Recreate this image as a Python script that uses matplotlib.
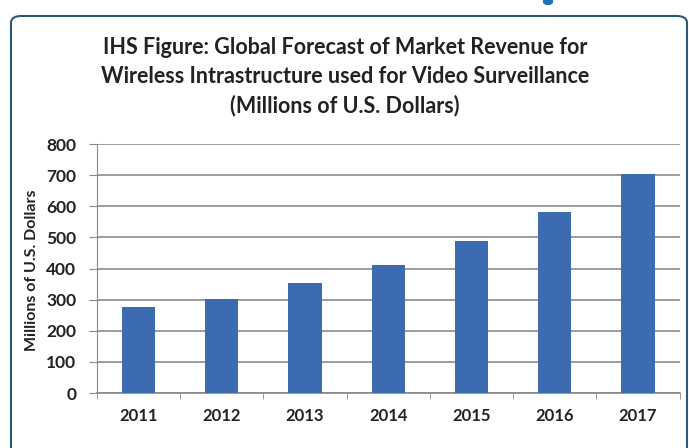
import matplotlib.pyplot as plt
from matplotlib.patches import FancyBboxPatch, Ellipse
import numpy as np

years = ["2011", "2012", "2013", "2014", "2015", "2016", "2017"]
revenue = [275, 302, 352, 410, 487, 580, 705]   # millones de USD
yticks = [0, 100, 200, 300, 400, 500, 600, 700, 800]

title = ("IHS Figure: Global Forecast of Market Revenue for\n"
         "Wireless Intrastructure used for Video Surveillance\n"
         "(Millions of U.S. Dollars)")

plt.rcParams['font.family'] = ['Lato', 'DejaVu Sans']

fig = plt.figure(figsize=(6.89, 4.48), dpi=100)
W, H = 689, 448

# marco azul redondeado
marco = FancyBboxPatch((11 / W, -20 / H), 676 / W, 452 / H,
                       boxstyle="round,pad=0,rounding_size=0.015",
                       transform=fig.transFigure, fill=False,
                       edgecolor="#2b5876", linewidth=1.5)
fig.patches.append(marco)
# resto de una letra azul recortada arriba
fig.patches.append(Ellipse((548 / W, 1 - 1.5 / H), 9 / W, 6 / H,
                           transform=fig.transFigure, color="#1f6fbf"))

fig.text(345 / W, 1 - 77 / H, title, ha="center", va="center",
         fontsize=15.5, fontweight="bold", color="#222222", linespacing=1.45)

ax = fig.add_axes([97 / W, 1 - 393 / H, 582.5 / W, 249 / H])
x = np.arange(len(years))
ax.bar(x, revenue, width=0.4, color="#3d6bb1", zorder=3)

ax.set_xlim(-0.5, len(years) - 0.5)
ax.set_ylim(0, 800)
ax.set_yticks(yticks)
ax.set_yticklabels([str(v) for v in yticks], fontsize=12.5, fontweight="bold",
                   color="#222222")
ax.set_xticks(x)
ax.set_xticklabels(years, fontsize=12, fontweight="bold", color="#222222")
ax.set_xticks(np.arange(-0.5, len(years)), minor=True)
ax.tick_params(axis="x", which="major", length=0, pad=11)
ax.tick_params(axis="x", which="minor", length=4, color="#888888", direction="out")
ax.tick_params(axis="y", length=6, color="#888888", pad=9)

ax.grid(axis="y", color="#8c8c8c", linewidth=1.2, zorder=0)
for s in ["top", "right"]:
    ax.spines[s].set_visible(False)
ax.spines["left"].set_color("#888888")
ax.spines["bottom"].set_color("#888888")
ax.spines["bottom"].set_linewidth(1.2)

fig.text(32 / W, 1 - 270 / H, "Millions of U.S. Dollars", rotation=90,
         ha="center", va="center", fontsize=11.5, fontweight="bold",
         color="#222222")

plt.savefig("out.png", dpi=100)
